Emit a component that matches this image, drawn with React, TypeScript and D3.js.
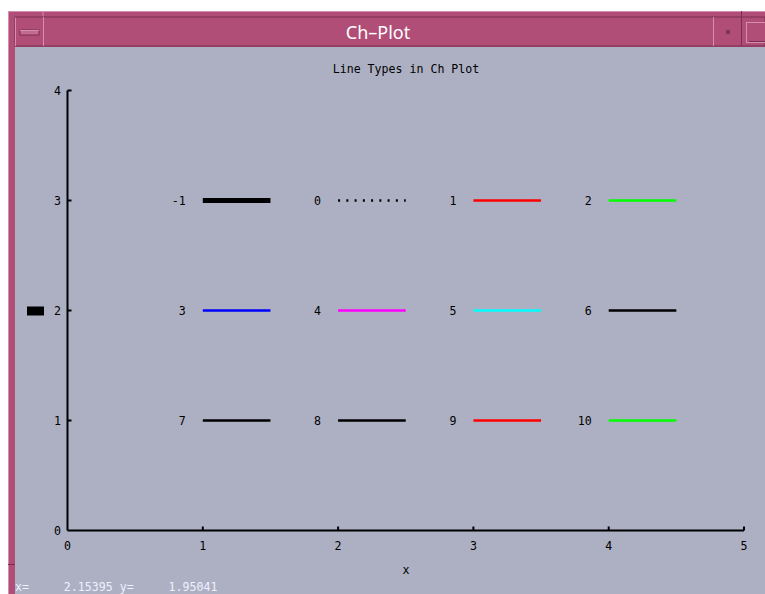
import React from "react";
import * as d3 from "d3";

const lineTypes = [-1, 0, 1, 2, 3, 4, 5, 6, 7, 8, 9, 10];
const lineX = [1, 2, 3, 4, 1, 2, 3, 4, 1, 2, 3, 4];
const lineY = [3, 3, 3, 3, 2, 2, 2, 2, 1, 1, 1, 1];
const lineColors = ["#000000", "#000000", "#ff0000", "#00ff00", "#0000ff", "#ff00ff", "#00ffff", "#000000", "#000000", "#000000", "#ff0000", "#00ff00"];
const xTicks = [0, 1, 2, 3, 4, 5];
const yTicks = [0, 1, 2, 3, 4];
const title = "Line Types in Ch Plot";
const windowTitle = "Ch\u2013Plot";
const statusText = "x=     2.15395 y=     1.95041";

const W = 765;
const H = 594;
const MONO = "'DejaVu Sans Mono', monospace";

export default function App() {
  const xs = d3.scaleLinear().domain([0, 5]).range([67.5, 744]);
  const ys = d3.scaleLinear().domain([0, 4]).range([530.5, 90.5]);
  const bg = "#adb0c2";
  const pink = "#b04e78";
  const pinkLight = "#d48fb0";
  const pinkDark = "#7a2f50";
  const fs = 11.6;

  return (
    <svg width={W} height={H} style={{ position: "absolute", left: 0, top: 0, background: "#ffffff" }}>
      {/* window frame */}
      <rect x={8} y={11} width={W - 8} height={H - 11} fill={pink} />
      <line x1={8.5} y1={11} x2={8.5} y2={H} stroke={pinkLight} />
      <line x1={8} y1={11.5} x2={W} y2={11.5} stroke={pinkLight} />
      <line x1={43} y1={11} x2={43} y2={17} stroke={pinkLight} />
      <line x1={741.5} y1={11} x2={741.5} y2={17} stroke={pinkDark} />
      {/* title bar inner */}
      <rect x={15} y={17} width={W - 15} height={29} fill={pink} stroke={pinkDark} strokeWidth={1} />
      <line x1={15.5} y1={17.5} x2={15.5} y2={46} stroke={pinkLight} />
      <line x1={43.5} y1={17} x2={43.5} y2={46} stroke={pinkLight} />
      <line x1={713.5} y1={17} x2={713.5} y2={46} stroke={pinkLight} />
      <line x1={741.5} y1={17} x2={741.5} y2={46} stroke={pinkDark} />
      {/* minimize glyph */}
      <rect x={20} y={30} width={19} height={5} fill={"#c66a92"} stroke={pinkDark} strokeWidth={1} />
      <line x1={20} y1={30.5} x2={39} y2={30.5} stroke={pinkLight} />
      {/* small square glyph */}
      <rect x={726} y={30} width={4} height={4} fill={"#7f3355"} />
      {/* right button */}
      <rect x={746.5} y={22.5} width={30} height={20} fill={pink} stroke={pinkLight} />
      <line x1={749} y1={41.5} x2={765} y2={41.5} stroke={pinkDark} />
      <text x={378} y={39} fill="#ffffff" fontFamily="'Noto Sans', sans-serif" fontSize={18} textAnchor="middle">
        {windowTitle}
      </text>

      {/* content area */}
      <rect x={15} y={47} width={W - 15} height={H - 47} fill={bg} />
      <line x1={8} y1={564.5} x2={15} y2={564.5} stroke={pinkDark} />

      {/* plot title */}
      <text x={406} y={73} fontFamily={MONO} fontSize={fs} fill="#000" textAnchor="middle">
        {title}
      </text>

      {/* axes */}
      <line x1={xs(0)} y1={ys(0)} x2={xs(5)} y2={ys(0)} stroke="#000" strokeWidth={2} />
      <line x1={xs(0)} y1={ys(0)} x2={xs(0)} y2={ys(4)} stroke="#000" strokeWidth={2} />
      {xTicks.map((t) => (
        <g key={"xt" + t}>
          {t > 0 && <line x1={xs(t)} y1={ys(0)} x2={xs(t)} y2={ys(0) - 4} stroke="#000" strokeWidth={2} />}
          <text x={xs(t)} y={ys(0) + 19} fontFamily={MONO} fontSize={fs} textAnchor="middle" fill="#000">
            {t}
          </text>
        </g>
      ))}
      {yTicks.map((t) => (
        <g key={"yt" + t}>
          {t > 0 && <line x1={xs(0)} y1={ys(t)} x2={xs(0) + 4} y2={ys(t)} stroke="#000" strokeWidth={2} />}
          <text x={61} y={ys(t) + 4} fontFamily={MONO} fontSize={fs} textAnchor="end" fill="#000">
            {t}
          </text>
        </g>
      ))}
      <text x={406} y={574} fontFamily={MONO} fontSize={fs} textAnchor="middle" fill="#000">
        x
      </text>

      {/* line type samples */}
      {lineTypes.map((lt, i) => {
        const x1 = xs(lineX[i]);
        const x2 = xs(lineX[i] + 0.5);
        const y = ys(lineY[i]);
        return (
          <g key={"lt" + lt}>
            <text x={x1 - 17} y={y + 4} fontFamily={MONO} fontSize={fs} textAnchor="end" fill="#000">
              {lt}
            </text>
            <line
              x1={x1}
              y1={y}
              x2={x2}
              y2={y}
              stroke={lineColors[i]}
              strokeWidth={lt === -1 ? 5 : 2.3}
              strokeDasharray={lt === 0 ? "2 6.25" : undefined}
            />
          </g>
        );
      })}

      {/* marker near y axis */}
      <rect x={27} y={ys(2) - 4} width={17} height={9} fill="#000" />

      {/* status line */}
      <text x={15} y={591} fontFamily={MONO} fontSize={fs} fill="#eef0ff" style={{ whiteSpace: "pre" }}>
        {statusText}
      </text>
    </svg>
  );
}
